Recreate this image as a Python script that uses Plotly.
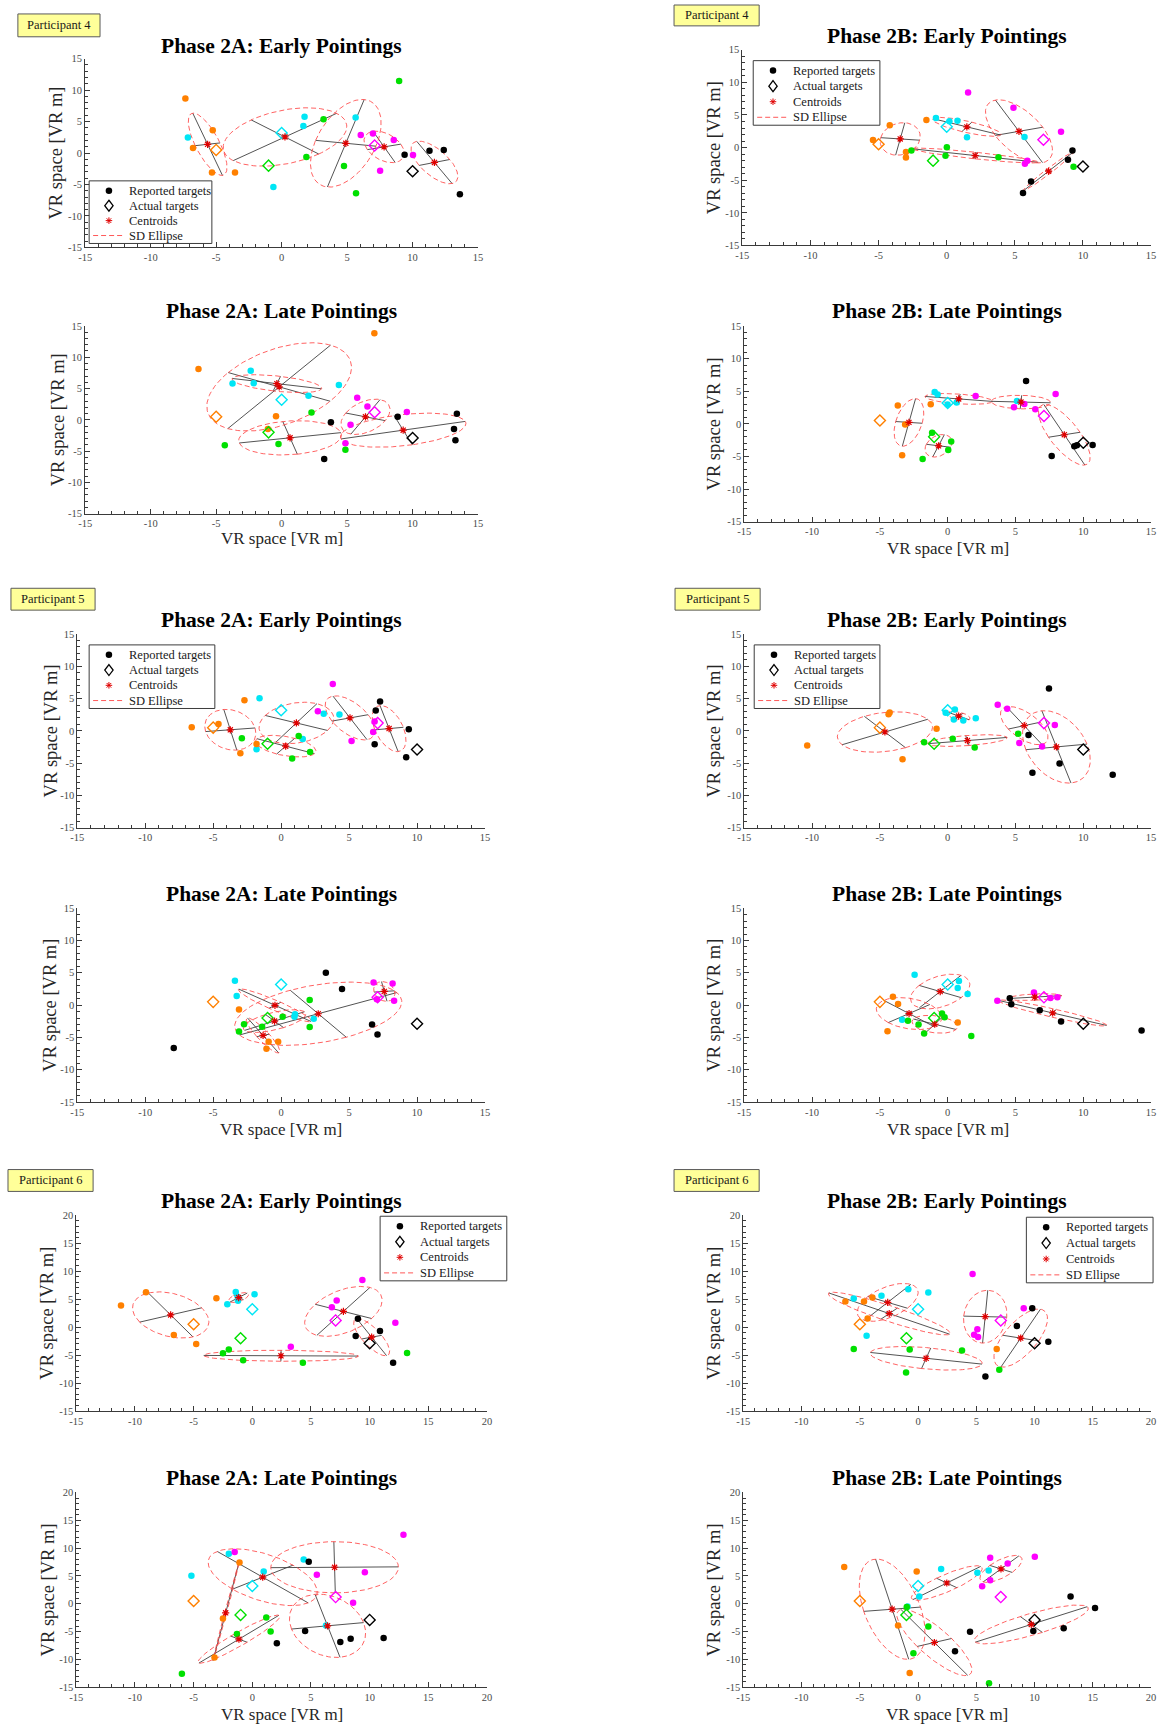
import numpy as np
import plotly.graph_objects as go

W, H = 1163, 1730
SERIF = "Liberation Serif, Times New Roman, serif"

# Colour of each target group
GROUP_COLORS = {
    "orange": "#ff8000",
    "green": "#00e000",
    "cyan": "#00e6f5",
    "magenta": "#ff00ff",
    "black": "#000000",
}
DRAW_ORDER = ["cyan", "magenta", "orange", "green", "black"]

# Actual target locations (identical in every panel)
TARGET_GROUPS = ["orange", "green", "cyan", "magenta", "black"]
TARGET_X = [-5.0, -1.0, 0.0, 7.1, 10.0]
TARGET_Y = [0.5, -2.0, 3.2, 1.2, -2.9]

TICKS_15 = [-15, -10, -5, 0, 5, 10, 15]
TICK_LABELS_15 = ["-15", "-10", "-5", "0", "5", "10", "15"]
TICKS_20 = [-15, -10, -5, 0, 5, 10, 15, 20]
TICK_LABELS_20 = ["-15", "-10", "-5", "0", "5", "10", "15", "20"]

# Reported target positions, one list of (x, y) per target group
P4_2A_EARLY = {
    "orange": [(-7.35, 8.66), (-5.26, 3.64), (-6.77, 0.79), (-5.32, -3.07), (-3.56, -3.07)],
    "green": [(3.2, 5.39), (8.97, 11.46), (1.89, -0.64), (4.76, -2.06), (5.68, -6.39)],
    "cyan": [(-7.16, 2.48), (1.75, 5.76), (1.66, 4.28), (5.65, 5.65), (-0.63, -5.39)],
    "magenta": [(6.04, 2.85), (6.97, 3.11), (8.56, 2.06), (7.52, -2.8), (10.03, -0.32)],
    "black": [(9.39, -0.27), (11.29, 0.37), (12.38, 0.47), (13.61, -6.55)],
}
P4_2B_EARLY = {
    "orange": [(-4.18, 3.41), (-1.49, 4.22), (-5.41, 1.17), (-2.99, -0.66), (-2.99, -1.52)],
    "green": [(-2.59, -0.45), (0.01, 0.05), (-0.09, -1.27), (3.8, -1.47), (9.31, -2.95)],
    "cyan": [(-0.79, 4.53), (0.2, 4.02), (0.79, 4.12), (1.49, 1.58), (5.71, 1.63)],
    "magenta": [(1.57, 8.44), (4.9, 6.1), (8.39, 2.44), (5.74, -2.49), (5.92, -2.03)],
    "black": [(5.6, -6.96), (6.19, -5.18), (8.9, -1.88), (9.23, -0.45)],
}
P4_2A_LATE = {
    "orange": [(-6.35, 8.12), (7.08, 13.84), (-0.43, 0.56), (-1.05, -1.46)],
    "green": [(-4.34, -4.05), (-0.24, -3.84), (2.28, 1.19), (4.87, -4.79)],
    "cyan": [(-2.36, 7.86), (-3.75, 5.79), (-2.13, 5.85), (4.37, 5.58), (2.05, 3.84)],
    "magenta": [(5.77, 3.52), (6.55, 2.14), (9.56, 1.24), (5.26, -0.77), (4.87, -3.73)],
    "black": [(3.76, -0.4), (3.25, -6.27), (8.86, 0.5), (13.38, 0.98), (13.16, -1.46), (13.27, -3.25)],
}
P4_2B_LATE = {
    "orange": [(-3.68, 2.8), (-1.25, 3.0), (-3.14, -0.1), (-3.36, -4.83)],
    "green": [(-1.15, -1.37), (0.26, -2.69), (0.04, -4.01), (-1.85, -5.39)],
    "cyan": [(-0.96, 4.88), (-0.74, 4.48), (-0.01, 2.95), (0.66, 3.26), (5.11, 3.51)],
    "magenta": [(2.06, 4.27), (4.89, 2.54), (5.65, 3.05), (6.46, 2.24), (7.96, 4.58)],
    "black": [(5.78, 6.56), (7.67, -4.93), (9.34, -3.45), (9.53, -3.3), (10.69, -3.25)],
}
P5_2A_EARLY = {
    "orange": [(-6.58, 0.54), (-4.61, 1.05), (-2.7, 4.74), (-3.0, -3.46), (-1.81, -2.03)],
    "green": [(-2.89, -1.15), (1.29, -0.79), (0.81, -4.28), (2.13, -3.26)],
    "cyan": [(-1.59, 5.05), (-1.81, -2.85), (1.59, -1.26), (3.13, 2.64), (4.29, 2.54)],
    "magenta": [(3.8, 7.26), (2.7, 3.05), (5.18, -1.56), (6.88, 1.46), (6.77, -0.18)],
    "black": [(7.28, 4.54), (6.96, 3.15), (6.88, -2.08), (9.39, 0.23), (9.2, -4.08)],
}
P5_2B_EARLY = {
    "orange": [(-10.36, -2.28), (-4.36, 2.59), (-4.28, 2.85), (-0.82, 0.33), (-3.33, -4.38)],
    "green": [(-1.74, -1.77), (0.37, -1.21), (1.99, -2.59), (5.2, -0.44)],
    "cyan": [(-0.15, 2.79), (0.53, 3.31), (0.45, 1.77), (1.15, 1.62), (2.07, 1.97)],
    "magenta": [(3.69, 4.03), (4.39, 3.41), (5.28, -1.87), (6.96, -2.44), (7.9, 0.9)],
    "black": [(7.47, 6.54), (5.96, -0.64), (6.25, -6.49), (8.25, -5.05), (12.17, -6.79)],
}
P5_2A_LATE = {
    "orange": [(-3.1, -0.69), (-0.92, -5.67), (-0.22, -5.67), (-1.08, -6.74)],
    "green": [(-3.1, -4.08), (-2.73, -2.95), (-1.4, -3.36), (0.11, -1.82), (2.1, 0.79), (2.1, -3.41)],
    "cyan": [(-3.4, 3.77), (-3.27, 1.41), (1.02, -1.41), (0.98, -1.79), (2.4, -2.13)],
    "magenta": [(6.8, 3.51), (8.2, 3.36), (7.04, 0.9), (8.31, 0.69)],
    "black": [(-7.9, -6.64), (3.29, 5.0), (4.48, 2.49), (6.69, -3.0), (7.09, -4.54)],
}
P5_2B_LATE = {
    "orange": [(-4.04, 1.31), (-3.66, 0.18), (-4.44, -4.03), (0.74, -2.69)],
    "green": [(-2.93, -2.44), (-2.15, -3.0), (-1.74, -4.38), (-0.42, -1.31), (-0.23, -1.87), (1.74, -4.79)],
    "cyan": [(-2.44, 4.69), (0.83, 3.72), (0.74, 2.64), (1.47, 1.72), (-3.36, -2.28)],
    "magenta": [(3.66, 0.69), (6.36, 1.97), (7.58, 1.1), (8.09, 1.21)],
    "black": [(4.58, 1.05), (4.69, 0.13), (6.79, -0.79), (8.36, -2.54), (14.3, -3.92)],
}
P6_2A_EARLY = {
    "orange": [(-11.19, 3.87), (-9.06, 6.24), (-3.06, 5.17), (-6.69, -1.41), (-4.78, -3.01)],
    "green": [(-2.5, -4.67), (-2.0, -4.02), (-0.78, -5.92), (4.31, -6.39), (13.19, -4.61)],
    "cyan": [(-1.41, 6.3), (-1.22, 4.7), (-2.13, 4.1), (0.19, 5.88), (-1.25, 5.45)],
    "magenta": [(9.38, 8.43), (7.19, 4.76), (6.78, 3.57), (12.19, 0.78), (3.28, -3.49)],
    "black": [(9.0, 1.49), (8.81, -1.59), (10.88, -0.7), (12.0, -6.39)],
}
P6_2B_EARLY = {
    "orange": [(-6.24, 4.58), (-4.64, 4.58), (-3.92, 5.29), (-4.33, 1.55), (6.75, -3.9)],
    "green": [(-5.52, -3.9), (-0.72, -4.02), (-1.03, -8.11), (3.77, -4.2), (6.97, -7.64)],
    "cyan": [(-5.52, 5.11), (-3.14, 5.59), (-0.84, 6.77), (0.88, 6.18), (-4.42, -1.53)],
    "magenta": [(4.68, 9.5), (9.07, 3.39), (5.09, -0.4), (4.81, -1.35), (5.15, -1.77)],
    "black": [(9.8, 3.39), (8.48, 0.19), (11.18, -2.6), (5.78, -8.83)],
}
P6_2A_LATE = {
    "orange": [(-1.09, 7.43), (-2.5, -2.66), (-3.22, -9.66)],
    "green": [(-6.0, -12.56), (-1.31, -5.44), (1.19, -2.48), (1.56, -4.97)],
    "cyan": [(-5.19, 5.05), (-2.0, 8.97), (0.97, 5.82), (4.38, 7.96), (6.28, -3.9)],
    "magenta": [(-1.5, 9.32), (5.5, 5.23), (9.59, 5.65), (8.59, 0.19), (12.88, 12.41)],
    "black": [(4.81, 7.54), (2.09, -7.11), (4.5, -4.91), (7.5, -6.87), (8.38, -6.27), (11.19, -6.16)],
}
P6_2B_LATE = {
    "orange": [(-6.34, 6.6), (-0.12, 5.82), (-1.72, -3.9), (-0.72, -12.44)],
    "green": [(-0.97, -0.58), (0.88, -4.08), (-0.4, -8.89), (6.09, -14.28)],
    "cyan": [(1.98, 6.24), (5.09, 5.59), (6.06, 6.0), (0.1, 1.32), (-0.9, -0.5)],
    "magenta": [(6.19, 8.26), (7.69, 7.25), (10.02, 8.43), (6.19, 4.22), (5.5, 3.16)],
    "black": [(4.46, -5.03), (3.17, -8.53), (9.89, -4.91), (12.5, -4.38), (13.09, 1.32), (15.19, -0.76)],
}

EARLY_2A = "Phase 2A: Early Pointings"
EARLY_2B = "Phase 2B: Early Pointings"
LATE_2A = "Phase 2A: Late Pointings"
LATE_2B = "Phase 2B: Late Pointings"
AXIS_LABEL = "VR space [VR m]"

# Panel layout in page pixels: plot box (left, top, right, bottom)
PANELS = [
    dict(data=P4_2A_EARLY, title=EARLY_2A, box=(79, 54, 476, 244), title_y=41, ylab_x=50,
         legend=(83, 177, 124, 63), xlab_y=None, wide=False),
    dict(data=P4_2B_EARLY, title=EARLY_2B, box=(743, 45, 1156, 242), title_y=31, ylab_x=714,
         legend=(754, 56, 128, 65), xlab_y=None, wide=False),
    dict(data=P4_2A_LATE, title=LATE_2A, box=(79, 323, 476, 512), title_y=308, ylab_x=51,
         legend=None, xlab_y=537, wide=False),
    dict(data=P4_2B_LATE, title=LATE_2B, box=(745, 323, 1156, 520), title_y=308, ylab_x=714,
         legend=None, xlab_y=547, wide=False),
    dict(data=P5_2A_EARLY, title=EARLY_2A, box=(71, 633, 483, 828), title_y=619, ylab_x=44,
         legend=(83, 644, 127, 64), xlab_y=None, wide=False),
    dict(data=P5_2B_EARLY, title=EARLY_2B, box=(745, 633, 1156, 828), title_y=619, ylab_x=714,
         legend=(755, 644, 127, 64), xlab_y=None, wide=False),
    dict(data=P5_2A_LATE, title=LATE_2A, box=(71, 909, 483, 1104), title_y=895, ylab_x=44,
         legend=None, xlab_y=1132, wide=False),
    dict(data=P5_2B_LATE, title=LATE_2B, box=(745, 909, 1156, 1104), title_y=895, ylab_x=714,
         legend=None, xlab_y=1132, wide=False),
    dict(data=P6_2A_EARLY, title=EARLY_2A, box=(70, 1218, 485, 1415), title_y=1204, ylab_x=41,
         legend=(377, 1219, 128, 65), xlab_y=None, wide=True),
    dict(data=P6_2B_EARLY, title=EARLY_2B, box=(744, 1218, 1156, 1415), title_y=1204, ylab_x=714,
         legend=(1030, 1220, 128, 66), xlab_y=None, wide=True),
    dict(data=P6_2A_LATE, title=LATE_2A, box=(70, 1497, 485, 1693), title_y=1482, ylab_x=41,
         legend=None, xlab_y=1720, wide=True),
    dict(data=P6_2B_LATE, title=LATE_2B, box=(744, 1497, 1156, 1693), title_y=1482, ylab_x=714,
         legend=None, xlab_y=1720, wide=True),
]
TITLE_X = [277, 950]

# Participant tags: (text, left, top, right, bottom)
TAGS = [
    ("Participant 4", 11, 9, 94, 32),
    ("Participant 4", 674, 0, 760, 21),
    ("Participant 5", 4, 587, 89, 609),
    ("Participant 5", 675, 587, 761, 609),
    ("Participant 6", 1, 1172, 87, 1194),
    ("Participant 6", 674, 1172, 760, 1194),
]

LEGEND_LABELS = ["Reported targets", "Actual targets", "Centroids", "SD Ellipse"]


def px(x):
    return x / W


def py(y):
    return 1 - y / H


def sd_ellipse(points, n=120):
    """Centroid, 1-SD covariance ellipse and its principal axes."""
    a = np.asarray(points, dtype=float)
    c = a.mean(axis=0)
    cov = np.cov(a.T)
    vals, vecs = np.linalg.eigh(cov)
    sd = np.sqrt(np.clip(vals, 0, None))
    t = np.linspace(0, 2 * np.pi, n)
    ell = c[:, None] + vecs @ (sd[:, None] * np.vstack([np.cos(t), np.sin(t)]))
    ax_x, ax_y = [], []
    for k in range(2):
        p0 = c - sd[k] * vecs[:, k]
        p1 = c + sd[k] * vecs[:, k]
        ax_x += [p0[0], p1[0], None]
        ax_y += [p0[1], p1[1], None]
    return c, ell[0], ell[1], ax_x, ax_y


fig = go.Figure()
layout = {}
shapes = []
annotations = []

axis_style = dict(
    showgrid=False, zeroline=False, showline=True, linecolor="#3a3a3a", linewidth=1,
    ticks="inside", ticklen=5, tickwidth=1, tickcolor="#3a3a3a",
    tickfont=dict(family=SERIF, size=10.5, color="#4a4a4a"),
    minor=dict(ticks="inside", ticklen=3, tickwidth=1, tickcolor="#3a3a3a",
               tickmode="linear", tick0=0, dtick=1),
    fixedrange=True, mirror=False,
)

for i, p in enumerate(PANELS, start=1):
    xs = "x" if i == 1 else f"x{i}"
    ys = "y" if i == 1 else f"y{i}"
    l, t, r, b = p["box"]
    hi = 20 if p["wide"] else 15
    ticks = TICKS_20 if p["wide"] else TICKS_15
    labels = TICK_LABELS_20 if p["wide"] else TICK_LABELS_15
    layout["xaxis" if i == 1 else f"xaxis{i}"] = dict(
        domain=[px(l), px(r)], anchor=ys, range=[-15, hi],
        tickmode="array", tickvals=ticks, ticktext=labels, **axis_style)
    layout["yaxis" if i == 1 else f"yaxis{i}"] = dict(
        domain=[py(b), py(t)], anchor=xs, range=[-15, hi],
        tickmode="array", tickvals=ticks, ticktext=labels, **axis_style)

    ex, ey, lx, ly, cx, cy = [], [], [], [], [], []
    for g in TARGET_GROUPS:
        c, ellx, elly, axx, axy = sd_ellipse(p["data"][g])
        ex += list(ellx) + [None]
        ey += list(elly) + [None]
        lx += axx
        ly += axy
        cx.append(c[0])
        cy.append(c[1])

    # principal axes of the SD ellipses
    fig.add_trace(go.Scatter(x=lx, y=ly, mode="lines", xaxis=xs, yaxis=ys,
                             line=dict(color="#404040", width=0.9), hoverinfo="skip"))
    # SD ellipses
    fig.add_trace(go.Scatter(x=ex, y=ey, mode="lines", xaxis=xs, yaxis=ys,
                             line=dict(color="rgba(255,70,70,0.85)", width=1, dash="5px,3px"),
                             hoverinfo="skip"))
    # reported targets
    rx, ry, rc = [], [], []
    for g in DRAW_ORDER:
        for (x, y) in p["data"][g]:
            rx.append(x)
            ry.append(y)
            rc.append(GROUP_COLORS[g])
    fig.add_trace(go.Scatter(x=rx, y=ry, mode="markers", xaxis=xs, yaxis=ys,
                             marker=dict(symbol="circle", size=6.5, color=rc, line=dict(width=0)),
                             hoverinfo="skip"))
    # actual targets
    fig.add_trace(go.Scatter(x=TARGET_X, y=TARGET_Y, mode="markers", xaxis=xs, yaxis=ys,
                             marker=dict(symbol="diamond-open", size=8.5,
                                         color=[GROUP_COLORS[g] for g in TARGET_GROUPS],
                                         line=dict(width=1.4)),
                             hoverinfo="skip"))
    # centroids
    fig.add_trace(go.Scatter(x=cx, y=cy, mode="markers", xaxis=xs, yaxis=ys,
                             marker=dict(symbol="asterisk-open", size=6, color="#e00000",
                                         line=dict(width=1.2, color="#e00000")),
                             hoverinfo="skip"))

    # title
    col = 0 if l < 500 else 1
    annotations.append(dict(text=f"<b>{p['title']}</b>", x=px(TITLE_X[col]), y=py(p["title_y"]),
                            xref="paper", yref="paper", xanchor="center", yanchor="middle",
                            showarrow=False, font=dict(family=SERIF, size=21.5, color="black")))
    # axis labels
    annotations.append(dict(text=AXIS_LABEL, x=px(p["ylab_x"]), y=py((t + b) / 2),
                            xref="paper", yref="paper", xanchor="center", yanchor="middle",
                            textangle=-90, showarrow=False,
                            font=dict(family=SERIF, size=18.5, color="#262626")))
    if p["xlab_y"] is not None:
        annotations.append(dict(text=AXIS_LABEL, x=px((l + r) / 2), y=py(p["xlab_y"]),
                                xref="paper", yref="paper", xanchor="center", yanchor="middle",
                                showarrow=False, font=dict(family=SERIF, size=17, color="#262626")))

    # legend box
    if p["legend"] is not None:
        x0, y0, w, h = p["legend"]
        shapes.append(dict(type="rect", xref="paper", yref="paper", x0=px(x0), x1=px(x0 + w),
                           y0=py(y0 + h), y1=py(y0), line=dict(color="#3c3c3c", width=1),
                           fillcolor="white", layer="above"))
        step = (h - 18) / 3
        rows = [y0 + 10 + k * step for k in range(4)]
        sx = x0 + 20
        r0, r1, r2, r3 = rows
        shapes.append(dict(type="circle", xref="paper", yref="paper",
                           x0=px(sx - 3.3), x1=px(sx + 3.3), y0=py(r0 + 3.3), y1=py(r0 - 3.3),
                           fillcolor="black", line=dict(width=0), layer="above"))
        shapes.append(dict(type="path", xref="paper", yref="paper", layer="above",
                           path=(f"M{px(sx)},{py(r1 - 5.5)} L{px(sx + 4.2)},{py(r1)} "
                                 f"L{px(sx)},{py(r1 + 5.5)} L{px(sx - 4.2)},{py(r1)} Z"),
                           line=dict(color="black", width=1.3)))
        star = ""
        for ang in (0, 45, 90, 135):
            dx = 3.3 * np.cos(np.radians(ang))
            dy = 3.3 * np.sin(np.radians(ang))
            star += f"M{px(sx - dx)},{py(r2 - dy)} L{px(sx + dx)},{py(r2 + dy)} "
        shapes.append(dict(type="path", xref="paper", yref="paper", layer="above",
                           path=star, line=dict(color="#e00000", width=1)))
        shapes.append(dict(type="line", xref="paper", yref="paper", layer="above",
                           x0=px(x0 + 4), x1=px(x0 + 34), y0=py(r3), y1=py(r3),
                           line=dict(color="rgba(255,70,70,0.9)", width=1, dash="5px,3px")))
        for rr, lab in zip(rows, LEGEND_LABELS):
            annotations.append(dict(text=lab, x=px(x0 + 38), y=py(rr), xref="paper", yref="paper",
                                    xanchor="left", yanchor="middle", showarrow=False,
                                    font=dict(family=SERIF, size=12.5, color="#1a1a1a")))

# participant tags
for text, l, t, r, b in TAGS:
    shapes.append(dict(type="rect", xref="paper", yref="paper", x0=px(l), x1=px(r),
                       y0=py(b), y1=py(t), fillcolor="#ffff99",
                       line=dict(color="#5a5a5a", width=1), layer="above"))
    annotations.append(dict(text=text, x=px((l + r) / 2), y=py((t + b) / 2), xref="paper", yref="paper",
                            xanchor="center", yanchor="middle", showarrow=False,
                            font=dict(family=SERIF, size=12.5, color="#1a1a1a")))

fig.update_layout(
    width=W, height=H, autosize=False,
    margin=dict(l=0, r=0, t=0, b=0),
    paper_bgcolor="white", plot_bgcolor="white",
    showlegend=False, hovermode=False,
    shapes=shapes, annotations=annotations,
    **layout,
)

fig.write_html("out.html")
